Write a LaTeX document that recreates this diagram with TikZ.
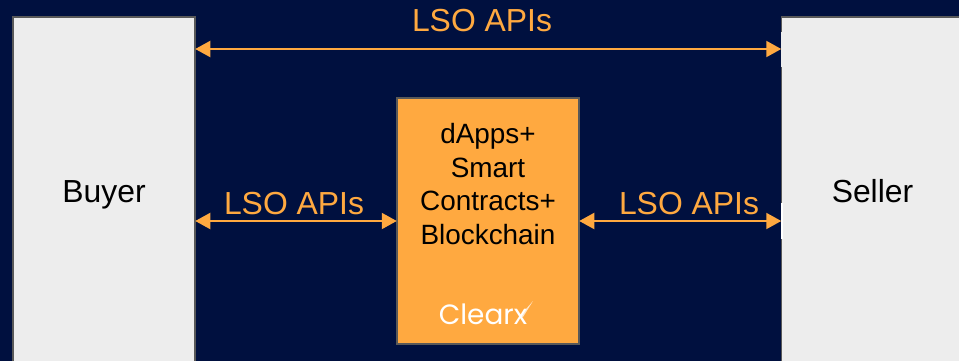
\documentclass[tikz,border=0pt]{standalone}
\usepackage{fontspec}
\setmainfont{Liberation Sans}
\newfontfamily\logofont{Poppins}
\usetikzlibrary{arrows.meta}
\definecolor{navybg}{HTML}{00103F}
\definecolor{apiorange}{HTML}{FFA940}
\definecolor{partygray}{HTML}{EDEDED}
\definecolor{edgegray}{HTML}{595959}
\tikzset{
  party/.style={draw=edgegray,line width=1.5bp,fill=partygray,minimum width=182bp,minimum height=348bp,inner sep=0pt,text=black,text height=23bp,text depth=0bp,font=\fontsize{32}{38}\selectfont},
  chainbox/.style={draw=edgegray,line width=1.5bp,fill=apiorange,minimum width=182bp,minimum height=246bp,inner sep=0pt},
  apilabel/.style={text=apiorange,inner sep=0pt,font=\fontsize{32}{38}\selectfont},
  apilink/.style={{Triangle[length=15bp,width=16bp]}-{Triangle[length=15bp,width=16bp]},apiorange,line width=2bp,shorten <=-0.5bp,shorten >=-0.5bp}
}
\begin{document}
\begin{tikzpicture}[x=1bp,y=1bp]
\useasboundingbox (0bp,0bp) rectangle (959bp,-361bp);
\fill [navybg] (0bp,0bp) rectangle (959bp,-361bp);

\node (Buyer) at (104bp,-191bp)[party] {Buyer};
\node (Seller) at (872.5bp,-191bp)[party] {Seller};
\node (Chain) at (488bp,-221bp)[chainbox] {};
\node (ChainText) at (488bp,-184bp)[inner sep=0pt,align=center,text=black,font=\fontsize{28}{33.5}\selectfont] {dApps+\\Smart\\Contracts+\\Blockchain};
\node (Logo) at (483bp,-314bp)[inner sep=0pt,text=white,font=\logofont\fontsize{28}{30}\selectfont] {Clearx};

\node (TopApi) at (482bp,-21bp)[apilabel] {LSO APIs};
\node (LeftApi) at (294bp,-204bp)[apilabel] {LSO APIs};
\node (RightApi) at (689bp,-204bp)[apilabel] {LSO APIs};
\coordinate (TopLink) at (482bp,-49bp);

% patches on the seller edge
\fill [white] (780.5bp,-203bp) rectangle (783bp,-239bp);
\fill [partygray] (781bp,-32bp) rectangle (783bp,-67bp);
% tail of the logo x
\fill [white,opacity=0.7] (520bp,-316bp) -- (533bp,-301bp) -- (523bp,-317bp) -- cycle;

\draw [apilink] (Buyer.east |- TopLink) -- (Seller.west |- TopLink);
\draw [apilink] (Buyer.east |- Chain.west) -- (Chain.west);
\draw [apilink] (Chain.east) -- (Seller.west |- Chain.east);
\end{tikzpicture}
\end{document}
